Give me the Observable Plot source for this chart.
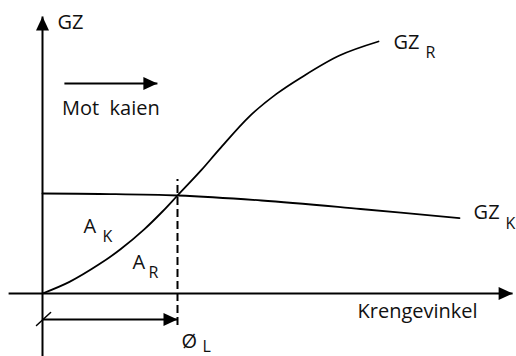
<!DOCTYPE html>
<html>
<head>
<meta charset="utf-8">
<script src="https://cdn.jsdelivr.net/npm/d3@7"></script>
<script src="https://cdn.jsdelivr.net/npm/@observablehq/plot@0.6"></script>
<style>
  html, body { margin: 0; padding: 0; background: #fff; }
  svg text { white-space: pre; }
</style>
</head>
<body>
<div id="chart"></div>
<script>
// Heeling angle (deg) and GZ values (m), schematic
const gzRAngle = [0, 9, 19, 26, 34, 40, 45, 53, 59, 69, 78, 86, 99, 112];
const gzRValue = [0, 0.058, 0.147, 0.221, 0.322, 0.41, 0.49, 0.618, 0.722, 0.886, 0.998, 1.078, 1.19, 1.26];
const gzKAngle = [0, 19, 45, 73, 106, 139];
const gzKValue = [0.5, 0.4975, 0.49, 0.465, 0.4225, 0.377];

const phiL = 45; // intersection angle

// Annotation text
const mainLabels = ["GZ", "Mot  kaien", "GZ", "GZ", "Krengevinkel", "A", "A", "Ø"];
const mainX = [5, 6.5, 117, 143.7, 105, 13.7, 30, 46.3];
const mainY = [1.325, 0.895, 1.225, 0.375, -0.12, 0.305, 0.125, -0.27];
const subLabels = ["R", "K", "K", "R", "L"];
const subX = [127.7, 154.3, 20, 35.3, 53.3];
const subY = [1.18, 0.325, 0.26, 0.08, -0.29];

// Arrows (tails and tips)
const arrowX1 = [0, -11.3, 7.3, 0];
const arrowY1 = [-0.36, 0, 1.05, -0.13];
const arrowX2 = [0, 156.7, 38.3, phiL];
const arrowY2 = [1.385, 0, 1.05, -0.13];
const arrowDir = ["up", "right", "right", "right"];

// Slash mark at origin of phi arrow
const slashX = [-2, 2.7];
const slashY = [-0.16, -0.095];

const headUp = { draw(ctx) { ctx.moveTo(0, 0); ctx.lineTo(-6.5, 14); ctx.lineTo(6.5, 14); ctx.closePath(); } };
const headRight = { draw(ctx) { ctx.moveTo(0, 0); ctx.lineTo(-14, -6.5); ctx.lineTo(-14, 6.5); ctx.closePath(); } };

const gzR = gzRAngle.map((a, i) => ({a, v: gzRValue[i]}));
const gzK = gzKAngle.map((a, i) => ({a, v: gzKValue[i]}));
const arrows = arrowX1.map((x1, i) => ({x1, y1: arrowY1[i], x2: arrowX2[i], y2: arrowY2[i], dir: arrowDir[i]}));
const mains = mainLabels.map((t, i) => ({t, x: mainX[i], y: mainY[i]}));
const subs = subLabels.map((t, i) => ({t, x: subX[i], y: subY[i]}));
const slash = slashX.map((x, i) => ({x, y: slashY[i]}));

const chart = Plot.plot({
  width: 516,
  height: 356,
  marginTop: 0, marginRight: 0, marginBottom: 0, marginLeft: 0,
  x: {domain: [-14, 158], axis: null},
  y: {domain: [-0.315, 1.465], axis: null},
  style: {fontFamily: "'Open Sans', sans-serif", background: "#fff", color: "#000", overflow: "visible"},
  marks: [
    Plot.link(arrows, {x1: "x1", y1: "y1", x2: "x2", y2: "y2", stroke: "#000", strokeWidth: 2}),
    Plot.ruleX([phiL], {y1: -0.16, y2: 0.57, stroke: "#000", strokeWidth: 2, strokeDasharray: "8,4"}),
    Plot.line(slash, {x: "x", y: "y", stroke: "#000", strokeWidth: 1.5}),
    Plot.line(gzK, {x: "a", y: "v", curve: "catmull-rom", stroke: "#000", strokeWidth: 1.8}),
    Plot.line(gzR, {x: "a", y: "v", curve: "catmull-rom", stroke: "#000", strokeWidth: 1.8}),
    Plot.dot(arrows.filter(d => d.dir === "up"), {x: "x2", y: "y2", r: 5, symbol: headUp, fill: "#000", stroke: "none"}),
    Plot.dot(arrows.filter(d => d.dir === "right"), {x: "x2", y: "y2", r: 5, symbol: headRight, fill: "#000", stroke: "none"}),
    Plot.text(mains, {x: "x", y: "y", text: "t", textAnchor: "start", lineAnchor: "bottom", fontSize: 20, fill: "#111"}),
    Plot.text(subs, {x: "x", y: "y", text: "t", textAnchor: "start", lineAnchor: "bottom", fontSize: 16, fill: "#111"})
  ]
});
document.getElementById("chart").appendChild(chart);
</script>
</body>
</html>
